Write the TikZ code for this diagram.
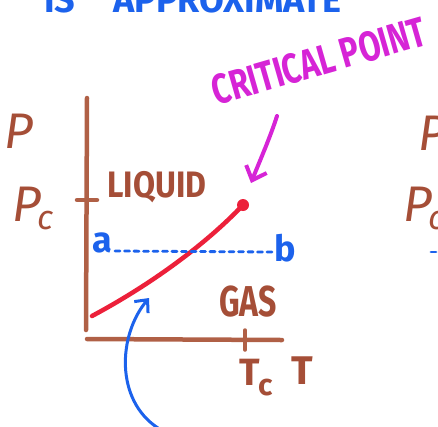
\documentclass[tikz,border=0pt]{standalone}
\usepackage{fontspec}
\setmainfont{Fira Sans}
\usetikzlibrary{arrows.meta}
\definecolor{brn}{RGB}{176,96,70}
\definecolor{brntxt}{RGB}{165,78,55}
\definecolor{redc}{RGB}{236,32,58}
\definecolor{bluec}{RGB}{28,98,236}
\definecolor{mag}{RGB}{214,36,214}
\begin{document}
\begin{tikzpicture}[x=1pt,y=-1pt,
  axis/.style={draw=brn,line width=4.5pt,line cap=round},
  lbl/.style={text=brntxt,inner sep=0pt,font=\fontsize{32}{32}\selectfont\bfseries},
  plbl/.style={text=brntxt,inner sep=0pt,font=\fontsize{50}{50}\selectfont\itshape},
  bluelbl/.style={text=bluec,inner sep=0pt,font=\fontsize{36}{36}\selectfont\bfseries},
  magarrow/.style={draw=mag,line width=4pt,line cap=round,-{Straight Barb[length=12pt,width=22pt]}},
  bluearrow/.style={draw=bluec,line width=3pt,line cap=round,-{Straight Barb[length=10pt,width=18pt]}},
  dashline/.style={draw=bluec,line width=2.8pt,line cap=round,dash pattern=on 5pt off 4.5pt}]
\useasboundingbox (0,0) rectangle (438,426);

% top heading (cut off by the frame)
\begin{scope}
  \clip (0,0) rectangle (438,14);
  \node[text=bluec,inner sep=0pt,anchor=base west,font=\fontsize{36}{36}\selectfont\bfseries] (head) at (44,12) {IS\hspace{38pt}APPROXIMATE};
\end{scope}

% critical point label
\node[text=mag,inner sep=0pt,rotate=16,xscale=0.75,font=\fontsize{42}{42}\selectfont\bfseries] (critlbl) at (319,61) {CRITICAL POINT};

% axes
\coordinate (ytop) at (87,98);
\coordinate (ybot) at (86,330);
\coordinate (xl) at (87,339);
\coordinate (xr) at (282,340);
\draw[axis] (ytop) -- (ybot);
\draw[axis] (xl) -- (xr);
\coordinate (pt1) at (77,200);
\coordinate (pt2) at (97,200);
\draw[axis] (pt1) -- (pt2);
\coordinate (tt1) at (245,330);
\coordinate (tt2) at (245,350);
\draw[axis,line width=3.5pt] (tt1) -- (tt2);

% axis labels
\node[plbl] (P) at (19,131) {P};
\node[plbl] (Pc) at (33,208) {P\kern-4pt\raisebox{-8pt}{\fontsize{34}{34}\selectfont c}};
\node[lbl,font=\fontsize{38}{38}\selectfont\bfseries] (Tc) at (256,378) {T\kern-2pt\raisebox{-10pt}{\fontsize{30}{30}\selectfont c}};
\node[lbl,font=\fontsize{40}{40}\selectfont\bfseries] (T) at (302,371) {T};

% region labels
\node[lbl,yscale=1.15] (liq) at (157,187) {LIQUID};
\node[lbl,yscale=1.35] (gas) at (248,302) {GAS};

% critical point and coexistence curve
\node[circle,fill=redc,inner sep=0pt,minimum size=12pt] (crit) at (243,205) {};
\coordinate (curvestart) at (92,316);
\draw[draw=redc,line width=4.5pt,line cap=round] (curvestart) .. controls (150,285) and (205,245) .. (crit.center);

% isobar a..b
\node[bluelbl] (a) at (102,243) {a};
\node[bluelbl] (b) at (285,248) {b};
\coordinate (da) at (115,251);
\coordinate (db) at (272,252);
\draw[dashline] (da) -- (db);

% magenta arrow to critical point
\coordinate (magstart) at (277,116);
\coordinate (magend) at (251,183);
\draw[magarrow] (magstart) .. controls (270,138) and (258,165) .. (magend);

% blue arrow to curve
\coordinate (bluestart) at (158,428);
\coordinate (blueend) at (149,298);
\draw[bluearrow] (bluestart) .. controls (115,400) and (118,335) .. (blueend);

% right-hand repeated labels (cut off by the frame)
\begin{scope}
  \clip (0,0) rectangle (438,426);
  \node[plbl] (P2) at (433,133) {P};
  \node[plbl] (Pc2) at (424,208) {P\kern-4pt\raisebox{-8pt}{\fontsize{34}{34}\selectfont c}};
  \coordinate (bd1) at (431,252);
  \coordinate (bd2) at (442,252);
  \draw[dashline] (bd1) -- (bd2);
\end{scope}
\end{tikzpicture}
\end{document}
